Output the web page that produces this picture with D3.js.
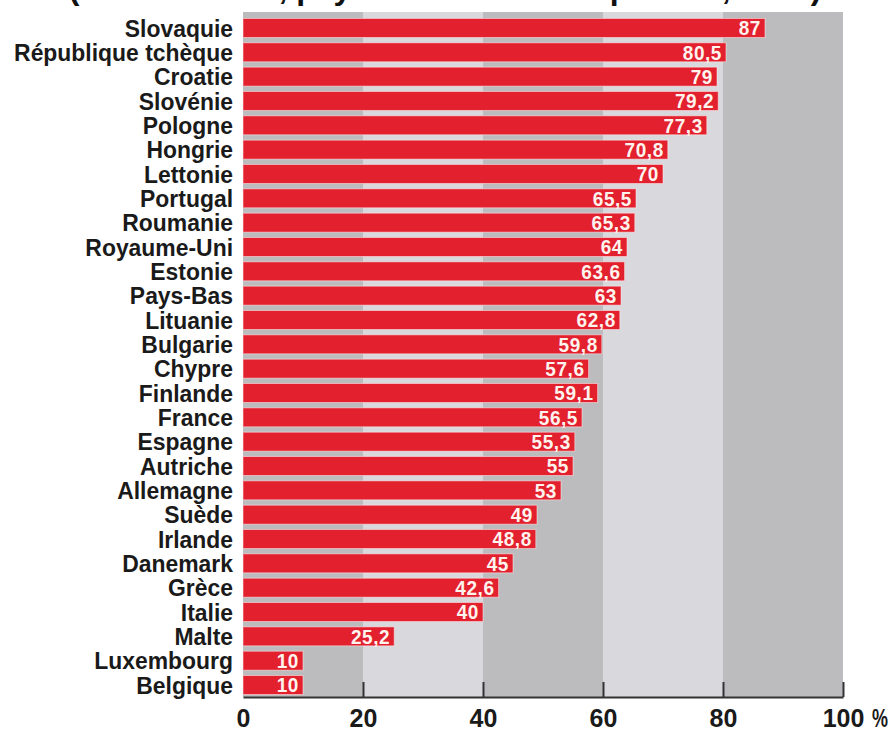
<!DOCTYPE html>
<html lang="fr">
<head>
<meta charset="utf-8">
<script src="https://cdn.jsdelivr.net/npm/d3@7"></script>
<style>
  html, body { margin: 0; padding: 0; background: #ffffff; }
  svg { display: block; }
  text { font-family: "Liberation Sans", Arial, "Helvetica Neue", sans-serif; font-weight: bold; }
</style>
</head>
<body>
<svg id="chart" width="891" height="729"></svg>
<script>
// Pays, du plus élevé au plus faible
const countries = [
  "Slovaquie", "République tchèque", "Croatie", "Slovénie", "Pologne",
  "Hongrie", "Lettonie", "Portugal", "Roumanie", "Royaume-Uni",
  "Estonie", "Pays-Bas", "Lituanie", "Bulgarie", "Chypre",
  "Finlande", "France", "Espagne", "Autriche", "Allemagne",
  "Suède", "Irlande", "Danemark", "Grèce", "Italie",
  "Malte", "Luxembourg", "Belgique"
];
const values = [
  87, 80.5, 79, 79.2, 77.3,
  70.8, 70, 65.5, 65.3, 64,
  63.6, 63, 62.8, 59.8, 57.6,
  59.1, 56.5, 55.3, 55, 53,
  49, 48.8, 45, 42.6, 40,
  25.2, 10, 10
];
const tickValues = [0, 20, 40, 60, 80, 100];
const bands = [[0, 20], [20, 40], [40, 60], [60, 80], [80, 100]];

const svg = d3.select("#chart");
const fmt = v => String(v).replace(".", ",");

const x = d3.scaleLinear().domain([0, 100]).range([243, 843]);
const y = d3.scaleBand().domain(countries).range([15.8, 697.2])
  .paddingInner(0.22).paddingOuter(0.11);

const plotTop = 12, plotBottom = 697;

// Titre (en haut, partiellement hors cadre)
svg.append("text")
  .attr("x", 445).attr("y", -1)
  .attr("text-anchor", "middle")
  .attr("font-size", 32)
  .attr("fill", "#111")
  .text("(en % du total, pays de l'Union européenne, 2015)");

// Bandes de fond alternées
svg.append("g").selectAll("rect").data(bands).join("rect")
  .attr("x", d => x(d[0]))
  .attr("y", plotTop)
  .attr("width", d => x(d[1]) - x(d[0]))
  .attr("height", plotBottom - plotTop)
  .attr("fill", (d, i) => i % 2 === 0 ? "#bcbcbf" : "#d9d9dd");

// Barres
svg.append("g").selectAll("rect").data(countries).join("rect")
  .attr("x", x(0))
  .attr("y", d => y(d))
  .attr("width", (d, i) => x(values[i]) - x(0))
  .attr("height", y.bandwidth())
  .attr("fill", "#e2202e")
  .attr("stroke", "rgba(255,235,235,0.55)")
  .attr("stroke-width", 1);

// Valeurs dans les barres
svg.append("g").selectAll("text").data(countries).join("text")
  .attr("transform", (d, i) => `translate(${x(values[i]) - 4},${y(d) + y.bandwidth() / 2}) scale(0.95,1)`)
  .attr("dy", "0.36em")
  .attr("text-anchor", "end")
  .attr("font-size", 20)
  .attr("letter-spacing", 0.6)
  .attr("fill", "#fff3ee")
  .text((d, i) => fmt(values[i]));

// Noms des pays
svg.append("g").selectAll("text").data(countries).join("text")
  .attr("transform", d => `translate(233,${y(d) + y.bandwidth() / 2}) scale(0.955,1)`)
  .attr("dy", "0.36em")
  .attr("text-anchor", "end")
  .attr("font-size", 24)
  .attr("fill", "#1a1a1a")
  .text(d => d);

// Axe horizontal
const axis = d3.axisBottom(x)
  .tickValues(tickValues)
  .tickSize(-15)
  .tickSizeOuter(0)
  .tickPadding(12)
  .tickFormat(d => d);
const gAxis = svg.append("g")
  .attr("transform", `translate(0,${plotBottom})`)
  .call(axis);
gAxis.select(".domain").attr("stroke", "#333").attr("stroke-width", 2);
gAxis.selectAll(".tick line").attr("stroke", "#333").attr("stroke-width", 2);
gAxis.selectAll(".tick").filter(d => d === 0).select("line").remove();
gAxis.selectAll(".tick text")
  .attr("font-size", 25)
  .attr("fill", "#1a1a1a")
  .attr("font-family", "\"Liberation Sans\", Arial, sans-serif")
  .attr("font-weight", "bold")
  .attr("dy", "0.71em");
svg.append("text")
  .attr("transform", `translate(${x(100) + 29},${plotBottom + 12}) scale(0.72,1)`)
  .attr("dy", "0.71em")
  .attr("font-size", 25)
  .attr("fill", "#1a1a1a")
  .text("%");
</script>
</body>
</html>
